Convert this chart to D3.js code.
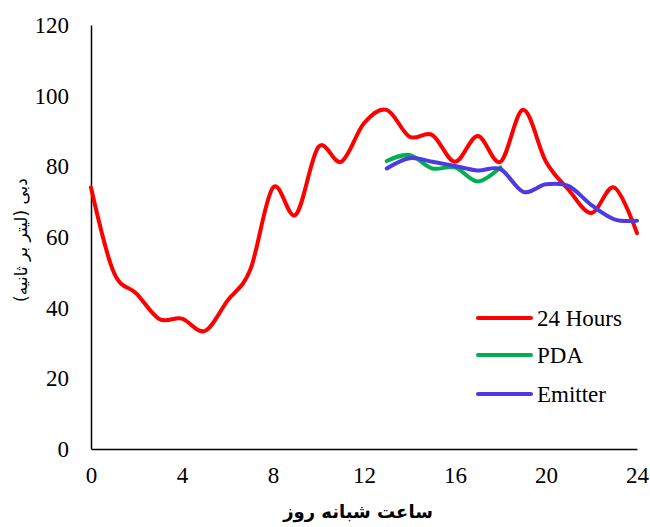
<!DOCTYPE html>
<html>
<head>
<meta charset="utf-8">
<script src="https://cdn.jsdelivr.net/npm/d3@7"></script>
<style>
  html, body { margin: 0; padding: 0; background: #fff; }
  svg { display: block; }
</style>
</head>
<body>
<svg id="chart" width="650" height="527"></svg>
<script>
// Hourly discharge series
const hoursAll = [0,1,2,3,4,5,6,7,8,9,10,11,12,13,14,15,16,17,18,19,20,21,22,23,24];
const hours24 = [74,50,44,36.8,36.9,33.4,42,50.7,74,66.3,85.5,81.3,92.2,96,88.4,88.9,81.3,88.6,81.3,96,81.3,73.3,66.8,74,61.1];

const hoursPDA = [13,14,15,16,17,18];
const valuesPDA = [81.5,83.2,79.4,79.7,75.7,79.7];

const hoursEmitter = [13,14,15,16,17,18,19,20,21,22,23,24];
const valuesEmitter = [79.4,82.3,81.3,80.1,78.8,79.2,72.8,74.9,74.4,69,65,64.6];

const xTicks = [0,4,8,12,16,20,24];
const yTicks = [0,20,40,60,80,100,120];

const seriesNames = ["24 Hours","PDA","Emitter"];
const seriesColors = ["#ff0000","#00b050","#4b3be0"];

const svg = d3.select("#chart");
const x = d3.scaleLinear().domain([0,24]).range([91,637]);
const y = d3.scaleLinear().domain([0,120]).range([449,25]);

const font = "'Liberation Serif','Times New Roman',serif";

// axes (no tick marks)
const xAxis = svg.append("g").attr("transform","translate(0,449)")
  .call(d3.axisBottom(x).tickValues(xTicks).tickSize(0).tickPadding(18));
xAxis.select(".domain").attr("stroke","#000").attr("stroke-width",1.5);
xAxis.selectAll("text").attr("font-family",font).attr("font-size",23).attr("fill","#000");

const yAxis = svg.append("g").attr("transform","translate(91,0)")
  .call(d3.axisLeft(y).tickValues(yTicks).tickSize(0).tickPadding(22));
yAxis.select(".domain").attr("stroke","#000").attr("stroke-width",1.5);
yAxis.selectAll("text").attr("font-family",font).attr("font-size",23).attr("fill","#000");

const line = d3.line()
  .x(d => x(d[0])).y(d => y(d[1]))
  .curve(d3.curveCatmullRom.alpha(0));

const series = [
  d3.zip(hoursAll, hours24),
  d3.zip(hoursPDA, valuesPDA),
  d3.zip(hoursEmitter, valuesEmitter)
];

series.forEach((s,i) => {
  svg.append("path").datum(s)
    .attr("d", line)
    .attr("fill","none")
    .attr("stroke", seriesColors[i])
    .attr("stroke-width",4)
    .attr("stroke-linecap","round")
    .attr("stroke-linejoin","round");
});

// legend
const legend = svg.append("g");
const legendY = [318,355,394];
seriesNames.forEach((name,i) => {
  legend.append("line")
    .attr("x1",478).attr("x2",531)
    .attr("y1",legendY[i]).attr("y2",legendY[i])
    .attr("stroke",seriesColors[i]).attr("stroke-width",4)
    .attr("stroke-linecap","round");
  legend.append("text")
    .attr("x",537).attr("y",legendY[i]+8)
    .attr("font-family",font).attr("font-size",23)
    .attr("fill","#000").text(name);
});

// axis titles
svg.append("text")
  .attr("x",358).attr("y",518)
  .attr("text-anchor","middle")
  .attr("font-family","'DejaVu Sans',sans-serif")
  .attr("font-weight","bold").attr("font-size",18)
  .attr("direction","rtl")
  .text("ساعت شبانه روز");

svg.append("text")
  .attr("transform","translate(27,240) rotate(-90)")
  .attr("text-anchor","middle")
  .attr("font-family","'DejaVu Sans',sans-serif")
  .attr("font-size",17)
  .attr("direction","rtl")
  .text("دبی (لیتر بر ثانیه)");
</script>
</body>
</html>
